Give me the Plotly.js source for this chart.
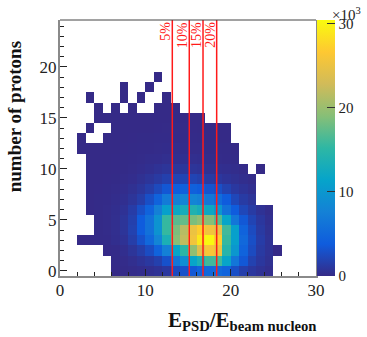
<!DOCTYPE html>
<html>
<head>
<meta charset="utf-8">
<script src="https://cdn.plot.ly/plotly-3.0.1.min.js"></script>
<style>html,body{margin:0;padding:0;background:#fff}</style>
</head>
<body>
<div id="chart" style="width:367px;height:337px"></div>
<script>
const _ = null;
// bin centres
const xBins = [0.5,1.5,2.5,3.5,4.5,5.5,6.5,7.5,8.5,9.5,10.5,11.5,12.5,13.5,14.5,15.5,16.5,17.5,18.5,19.5,20.5,21.5,22.5,23.5,24.5,25.5];
const yBins = [0,1,2,3,4,5,6,7,8,9,10,11,12,13,14,15,16,17,18,19];
// counts in thousands, per row (number of protons)
const row0  = [_,_,_,_,_,_,.02,.06,.15,.25,.4,.6,1,2.5,3,3.5,4.5,5,5.2,4.5,2.8,1.6,1,.6,.3,_];
const row1  = [_,_,_,_,_,_,.05,.15,.35,.7,1.1,1.7,3,6.5,9,11.5,13.5,16,16,11.5,6.5,3.5,1.8,1,.5,_];
const row2  = [_,_,_,_,_,.03,.1,.3,.8,1.5,2.6,4.5,7.5,11.5,15,19.5,24,26,25,14.5,10,4.5,2.5,1.2,.6,.01];
const row3  = [_,_,.01,.01,.05,.1,.3,.6,1.5,3,5,8,13.5,19,22,25.5,29,30.2,27,15.5,11,5,2.8,1.4,.6,_];
const row4  = [_,_,_,_,.06,.15,.35,.8,1.8,3.8,6,9.5,15.5,18.5,21.5,25,27,25.5,24.5,16,11,4.5,2.5,1.2,.5,_];
const row5  = [_,_,_,_,.06,.15,.35,.8,1.7,3.8,6,9.5,15.5,17,17.5,18.5,19.5,19,17,11.5,6.5,3.5,2,1,.4,_];
const row6  = [_,_,_,.02,.06,.12,.3,.6,1.4,2.8,4.5,7.5,11,12,13,14,13,12,10,6,3.8,2.2,1.3,.6,.2,_];
const row7  = [_,_,_,.02,.05,.1,.2,.4,.8,1.5,2.8,4.5,7,7.5,8,8,7.5,6.5,5.5,3.8,2.2,1.3,.8,_,_,_];
const row8  = [_,_,_,.01,.03,.06,.12,.25,.5,.9,1.5,2.4,3.4,4,4.2,4.2,3.8,3.2,2.8,1.8,1.1,.7,.4,_,_,_];
const row9  = [_,_,_,.01,.02,.03,.06,.12,.25,.5,.8,1.2,1.7,2,2,2,1.7,1.3,1,.7,.5,.3,.15,_,_,_];
const row10 = [_,_,_,.01,.01,.02,.03,.06,.12,.25,.4,.6,.8,.9,.9,.8,.7,.5,.4,.3,.2,.1,_,.01,_,_];
const row11 = [_,_,_,.01,.01,.02,.03,.05,.08,.12,.2,.25,.35,.4,.4,.35,.3,.2,.15,.1,.05,_,_,_,_,_];
const row12 = [_,_,.01,.01,.01,.01,.02,.03,.05,.08,.1,.15,.18,.2,.18,.15,.12,.1,.07,.05,.02,_,_,_,_,_];
const row13 = [_,_,.01,_,_,.01,.01,.02,.03,.05,.06,.08,.1,.1,.08,.07,.05,.03,.02,.01,_,_,_,_,_,_];
const row14 = [_,_,_,.01,_,_,.01,.01,.01,.02,.02,.03,.04,.04,.04,.03,.02,.02,.01,.01,_,_,_,_,_,_];
const row15 = [_,_,_,_,.01,.01,.01,.01,.01,.01,.01,.02,.02,.02,.01,.01,.01,_,_,_,_,_,_,_,_,_];
const row16 = [_,_,_,_,.01,_,.01,_,.01,_,_,.01,.01,.01,_,_,_,_,_,_,_,_,_,_,_,_];
const row17 = [_,_,_,.01,_,_,_,.01,_,.01,_,_,.01,_,_,_,_,_,_,_,_,_,_,_,_,_];
const row18 = [_,_,_,_,_,_,_,.01,_,_,.01,_,_,_,_,_,_,_,_,_,_,_,_,_,_,_];
const row19 = [_,_,_,_,_,_,_,_,_,_,_,.01,_,_,_,_,_,_,_,_,_,_,_,_,_,_];
const zRows = [row0,row1,row2,row3,row4,row5,row6,row7,row8,row9,row10,row11,row12,row13,row14,row15,row16,row17,row18,row19];

const centralityCuts = [13.16,15.15,16.76,18.36];
const centralityLabels = ['5%','10%','15%','20%'];
const cbTicks = [0,10,20,30];
const xTicks = [0,10,20,30];
const yTicks = [0,5,10,15,20];

const serif = '"Liberation Serif", serif';
const bird = [[0,'rgb(53,42,135)'],[.125,'rgb(15,92,221)'],[.25,'rgb(20,129,214)'],[.375,'rgb(6,164,202)'],[.5,'rgb(46,183,164)'],[.625,'rgb(135,191,119)'],[.75,'rgb(209,187,89)'],[.875,'rgb(254,200,50)'],[1,'rgb(249,251,14)']];

const traces = [{
  type:'heatmap', x:xBins, y:yBins, z:zRows, zmin:0, zmax:30.4, colorscale:bird, hoverongaps:false,
  colorbar:{x:1.005, xanchor:'left', xpad:0, ypad:0, y:0, yanchor:'bottom', len:1, thickness:18, outlinewidth:0,
    ticks:'inside', ticklen:8, tickwidth:1, tickcolor:'#333', tickvals:cbTicks, ticktext:cbTicks.map(String),
    tickfont:{family:serif,size:15,color:'#222'}}
}];
centralityCuts.forEach(c=>traces.push({type:'scatter',mode:'lines',x:[c,c],y:[-0.5,24.6],showlegend:false,hoverinfo:'skip',line:{color:'#ff1a1a',width:1.5}}));

const notes = centralityLabels.map((t,i)=>({text:t,x:centralityCuts[i],xref:'x',y:1,yref:'paper',yshift:0,xshift:-7,xanchor:'center',yanchor:'top',textangle:-90,showarrow:false,font:{family:serif,size:14,color:'#ff1a1a'}}));
notes.push({text:'<b>E<sub>PSD</sub>/E<sub>beam nucleon</sub></b>',xref:'paper',yref:'paper',x:1,y:0,xshift:3,yshift:-30,xanchor:'right',yanchor:'top',showarrow:false,font:{family:serif,size:21,color:'#111'}});
notes.push({text:'<b>number of protons</b>',xref:'paper',yref:'paper',x:0,y:0.62,xshift:-46,xanchor:'center',yanchor:'middle',textangle:-90,showarrow:false,font:{family:serif,size:19,color:'#111'}});
notes.push({text:'×10<sup>3</sup>',xref:'paper',yref:'paper',x:1.185,y:1,yshift:-5,xanchor:'right',yanchor:'bottom',showarrow:false,font:{family:serif,size:15,color:'#222'}});

const layout = {
  width:367,height:337,paper_bgcolor:'#fff',plot_bgcolor:'#fff',showlegend:false,
  margin:{l:60,r:51,t:20,b:61,pad:0,autoexpand:false},
  font:{family:serif,color:'#222'},
  xaxis:{range:[0,30],tickvals:xTicks,ticks:'inside',ticklen:7,tickwidth:1,tickcolor:'#222',ticklabelstandoff:-2,
    minor:{dtick:2,ticks:'inside',ticklen:4,tickwidth:1,tickcolor:'#222',showgrid:false},
    showgrid:false,zeroline:false,showline:true,linecolor:'#8a8a8a',linewidth:2,tickfont:{family:serif,size:17,color:'#222'}},
  yaxis:{range:[-0.5,24.6],tickvals:yTicks,ticks:'inside',ticklen:7,tickwidth:1,tickcolor:'#222',ticklabelstandoff:-2,
    minor:{dtick:1,ticks:'inside',ticklen:4,tickwidth:1,tickcolor:'#222',showgrid:false},
    showgrid:false,zeroline:false,showline:true,mirror:true,linecolor:'#8a8a8a',linewidth:2,tickfont:{family:serif,size:17,color:'#222'}},
  shapes:[{type:'line',xref:'paper',yref:'paper',x0:0,x1:1,y0:1,y1:1,line:{color:'#444',width:1}}],
  annotations:notes
};
Plotly.newPlot('chart',traces,layout,{displayModeBar:false,staticPlot:true});
</script>
</body>
</html>
